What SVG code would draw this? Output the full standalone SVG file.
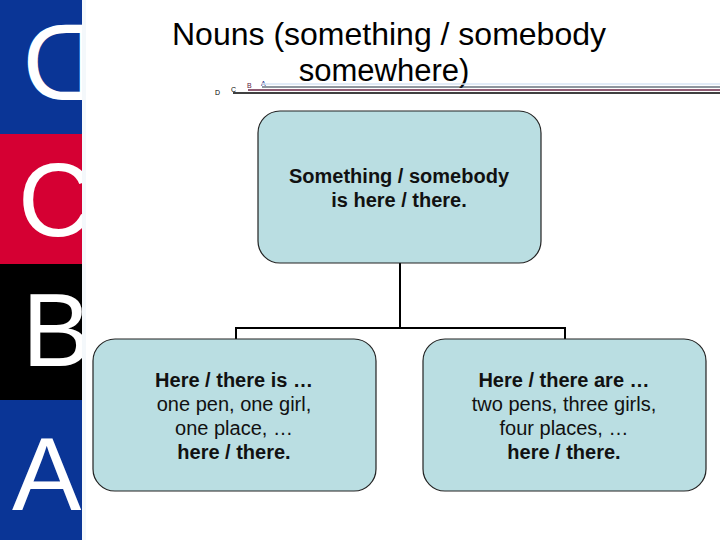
<svg xmlns="http://www.w3.org/2000/svg" width="720" height="540" viewBox="0 0 720 540">
<style>
.big{font-family:"Liberation Sans",Arial,sans-serif;font-size:104px;fill:#fff;}
.title{font-family:"Liberation Sans",Arial,sans-serif;font-size:32px;fill:#000;text-anchor:middle;}
.t{font-family:"Liberation Sans",Arial,sans-serif;font-size:20px;fill:#111;text-anchor:middle;}
.b{font-weight:bold;}
.box{fill:#badee2;stroke:#222;stroke-width:1.2;}
.tiny{font-family:"Liberation Sans",Arial,sans-serif;font-size:7px;}
.conn{fill:none;stroke:#000;stroke-width:2;}
</style>
<defs>
<clipPath id="bar"><rect x="0" y="0" width="82" height="540"/></clipPath>
</defs>
<rect width="720" height="540" fill="#fff"/>
<g id="sidebar" clip-path="url(#bar)">
<rect x="0" y="0" width="82" height="134" fill="#0a3596"/>
<rect x="0" y="134" width="82" height="130" fill="#d50033"/>
<rect x="0" y="264" width="82" height="136" fill="#000"/>
<rect x="0" y="400" width="82" height="140" fill="#0a3596"/>
<text class="big" transform="translate(98,100) scale(-1,1.06)">D</text>
<text class="big" x="18" y="236">C</text>
<text class="big" x="22" y="366">B</text>
<text class="big" x="12" y="510">A</text>
</g>
<rect x="82" y="0" width="4" height="540" fill="#f4f8fb"/>
<g id="header">
<text class="title" x="389" y="45">Nouns (something / somebody</text>
<text class="title" x="384" y="81" style="font-size:31px">somewhere)</text>
<text class="tiny" x="215" y="95" fill="#000">D</text>
<text class="tiny" x="231" y="92" fill="#000">C</text>
<text class="tiny" x="247" y="88" fill="#602040">B</text>
<text class="tiny" x="261" y="86" fill="#1a2a8a">A</text>
<line x1="262" y1="84" x2="720" y2="84" stroke="#d8e4f4" stroke-width="1.5"/>
<line x1="262" y1="87" x2="720" y2="87" stroke="#1f2f3f" stroke-width="1.2"/>
<line x1="248" y1="90" x2="720" y2="90" stroke="#6a2545" stroke-width="1.5"/>
<line x1="233" y1="93" x2="720" y2="93" stroke="#000" stroke-width="1.5"/>
</g>
<g id="connectors">
<path class="conn" d="M400,263 V328 M236,340 V328 H565 V340"/>
</g>
<g id="node-top">
<rect class="box" x="258" y="111" width="283" height="152" rx="22"/>
<text class="t b" x="399" y="183">Something / somebody</text>
<text class="t b" x="399" y="207">is here / there.</text>
</g>
<g id="node-left">
<rect class="box" x="93" y="339" width="283" height="152" rx="22"/>
<text class="t b" x="234" y="387">Here / there is …</text>
<text class="t" x="234" y="411">one pen, one girl,</text>
<text class="t" x="234" y="435">one place, …</text>
<text class="t b" x="234" y="459">here / there.</text>
</g>
<g id="node-right">
<rect class="box" x="423" y="339" width="283" height="152" rx="22"/>
<text class="t b" x="564" y="387">Here / there are …</text>
<text class="t" x="564" y="411">two pens, three girls,</text>
<text class="t" x="564" y="435">four places, …</text>
<text class="t b" x="564" y="459">here / there.</text>
</g>
</svg>
